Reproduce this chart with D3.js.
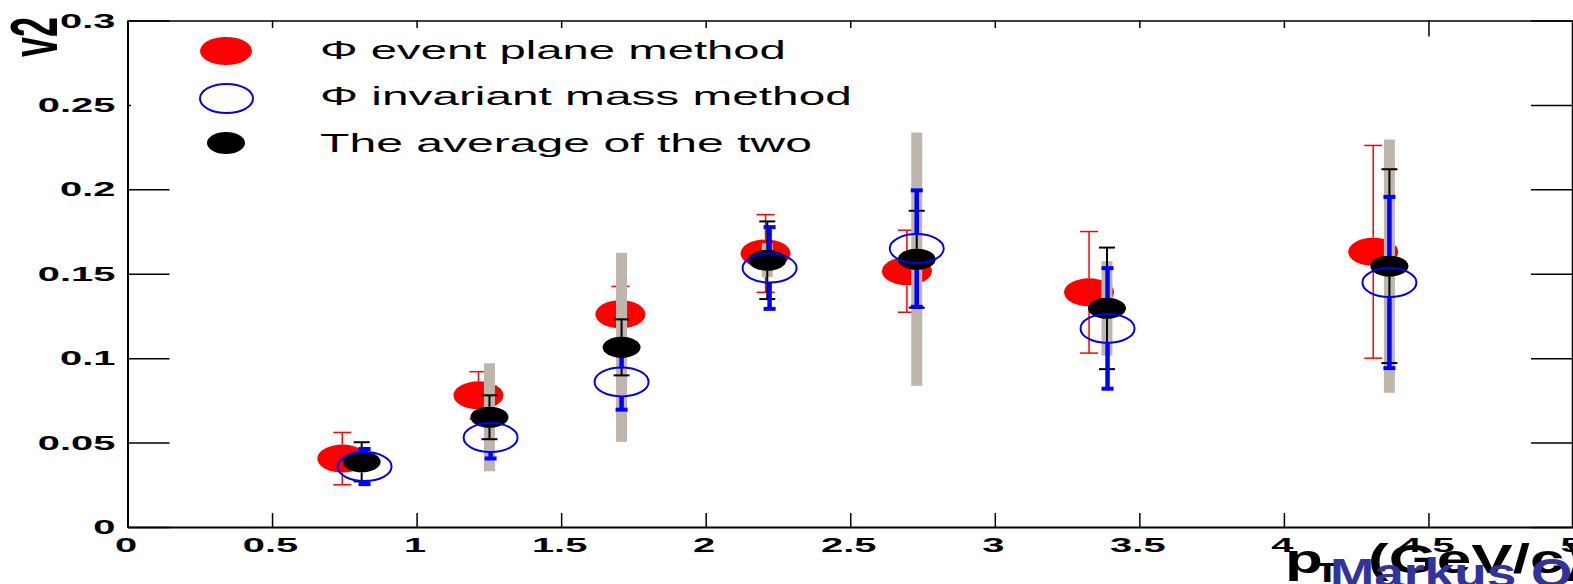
<!DOCTYPE html>
<html><head><meta charset="utf-8">
<script src="https://cdn.jsdelivr.net/npm/d3@7"></script>
<style>
html,body{margin:0;padding:0;background:#fff;overflow:hidden}
svg{display:block}
text{font-family:"Liberation Sans",Arial,Helvetica,sans-serif}
</style></head><body>
<svg id="chart" width="1573" height="584"></svg>
<script>
// ---------- data ----------
const yTickValues = [0, 0.05, 0.1, 0.15, 0.2, 0.25, 0.3];
const yTickLabels = ["0", "0.05", "0.1", "0.15", "0.2", "0.25", "0.3"];
const xTickValues = [0, 0.5, 1, 1.5, 2, 2.5, 3, 3.5, 4, 4.5, 5];
const xTickLabels = ["0", "0.5", "1", "1.5", "2", "2.5", "3", "3.5", "4", "4.5", "5"];

// Φ event plane method (red, filled)
const epX   = [0.743, 1.214, 1.705, 2.207, 2.696, 3.326, 4.309];
const epY   = [0.0405, 0.078, 0.126, 0.162, 0.1515, 0.139, 0.163];
const epErr = [0.0155, 0.014, 0.0165, 0.023, 0.0243, 0.036, 0.063];

// Φ invariant mass method (blue, open)
const imX   = [0.82, 1.256, 1.709, 2.221, 2.73, 3.39, 4.365];
const imY   = [0.0358, 0.053, 0.0859, 0.1534, 0.1649, 0.1176, 0.1448];
const imErr = [0.0104, 0.0124, 0.0164, 0.0242, 0.0345, 0.0357, 0.0507];

// average of the two (black, filled) + systematic (grey band)
const avX   = [0.81, 1.252, 1.709, 2.213, 2.73, 3.388, 4.365];
const avY   = [0.0386, 0.065, 0.1064, 0.158, 0.1586, 0.1295, 0.1545];
const avErr = [0.0116, 0.013, 0.0166, 0.023, 0.0287, 0.036, 0.0574];
const avSys = [0, 0.032, 0.056, 0.01, 0.075, 0.028, 0.075];

const legendLabels = ["\u03A6 event plane method", "\u03A6 invariant mass method", "The average of the two"];
const yTitle = "v2";
const xTitleMain = "p", xTitleSub = "T", xTitleUnit = "(GeV/c)";
const author = "Markus Oldenburg";

// ---------- setup ----------
const svg = d3.select("#chart");
svg.append("rect").attr("width", 1573).attr("height", 584).attr("fill", "#fff");

const x = d3.scaleLinear().domain([0, 5]).range([127.5, 1573]);
const y = d3.scaleLinear().domain([0, 0.3]).range([527, 20.5]);

const RED = "#ff0000", BLUE = "#0000ff", BLACK = "#000000", GREY = "rgb(190,182,172)";

function styleAxis(g, domainWidth) {
  g.attr("font-family", null).attr("font-size", null);
  g.select(".domain").attr("stroke", "#000").attr("stroke-width", domainWidth);
  g.selectAll(".tick line").attr("stroke", "#000").attr("stroke-width", 1.5);
}

// top & right frame axes (no labels)
const gTop = svg.append("g").attr("transform", `translate(0,${y(0.3)})`)
  .call(d3.axisTop(x).tickValues(xTickValues).tickFormat("").tickSize(-16).tickSizeOuter(0));
styleAxis(gTop, 1.5);
const gRight = svg.append("g").attr("transform", `translate(1572,0)`)
  .call(d3.axisRight(y).tickValues(yTickValues).tickFormat("").tickSize(-41).tickSizeOuter(0));
styleAxis(gRight, 1.5);

// left axis
const gLeft = svg.append("g").attr("transform", `translate(${x(0)},0)`)
  .call(d3.axisLeft(y).tickValues(yTickValues).tickFormat((d, i) => yTickLabels[i]).tickSize(-42).tickSizeOuter(0));
styleAxis(gLeft, 2);
gLeft.selectAll(".tick text")
  .attr("x", 0).attr("dy", null).attr("text-anchor", "end")
  .attr("font-size", 21).attr("font-weight", "bold").attr("fill", "#000")
  .attr("transform", "translate(-12,6.5) scale(1.9,1)");

// bottom axis
const gBottom = svg.append("g").attr("transform", `translate(0,${y(0)})`)
  .call(d3.axisBottom(x).tickValues(xTickValues).tickFormat((d, i) => xTickLabels[i]).tickSize(-14).tickSizeOuter(0));
styleAxis(gBottom, 2);
gBottom.selectAll(".tick text")
  .attr("y", 0).attr("dy", null).attr("text-anchor", "middle")
  .attr("font-size", 21).attr("font-weight", "bold").attr("fill", "#000")
  .attr("transform", "translate(-2,25) scale(1.9,1)");

// ---------- legend (white box hides ticks behind it) ----------
svg.append("rect").attr("x", 131).attr("y", 28).attr("width", 1170).attr("height", 142).attr("fill", "#fff");

function stretchText(parent, str, px, py, o) {
  const g = parent.append("g");
  const t = g.append("text").attr("x", 0).attr("y", 0)
    .attr("text-anchor", o.anchor || "start")
    .attr("font-size", o.size).attr("font-weight", o.weight || "normal")
    .attr("fill", o.fill || "#000").text(str);
  let sx = o.sx || 1;
  if (o.width) sx = o.width / t.node().getComputedTextLength();
  g.attr("transform", `translate(${px},${py}) scale(${sx},1)` + (o.rotate ? ` rotate(${o.rotate})` : ""));
  return t;
}

const legMarkerY = [51, 98.5, 143];
const legTextBase = [58.5, 105, 152];
const legWidths = [466, 532, 492];
const leg = svg.append("g");
leg.append("ellipse").attr("cx", 226).attr("cy", legMarkerY[0]).attr("rx", 26).attr("ry", 14).attr("fill", RED);
leg.append("ellipse").attr("cx", 226.5).attr("cy", legMarkerY[1]).attr("rx", 26.5).attr("ry", 14.5)
  .attr("fill", "none").attr("stroke", BLUE).attr("stroke-width", 2);
leg.append("ellipse").attr("cx", 226).attr("cy", legMarkerY[2]).attr("rx", 19).attr("ry", 11).attr("fill", BLACK);
legendLabels.forEach((s, i) => stretchText(leg, s, 320, legTextBase[i], { size: 25, width: legWidths[i] }));

// ---------- data marks ----------
const toPts = (xs, ys, es, ss) => xs.map((v, i) => ({ x: v, y: ys[i], e: es[i], s: ss ? ss[i] : 0 }));
const epPts = toPts(epX, epY, epErr);
const imPts = toPts(imX, imY, imErr);
const avPts = toPts(avX, avY, avErr, avSys);

function markers(data, rx, ry, fill, stroke) {
  svg.append("g").selectAll("ellipse").data(data).join("ellipse")
    .attr("cx", d => x(d.x)).attr("cy", d => y(d.y)).attr("rx", rx).attr("ry", ry)
    .attr("fill", fill).attr("stroke", stroke || "none").attr("stroke-width", stroke ? 2 : 0);
}

function errorBars(data, color, lw, capLen, capW, gap) {
  const g = svg.append("g").attr("stroke", color);
  data.forEach(d => {
    const cx = x(d.x), top = y(d.y + d.e), bot = y(d.y - d.e), c = y(d.y);
    if (c - gap > top) g.append("line").attr("x1", cx).attr("x2", cx).attr("y1", top).attr("y2", c - gap).attr("stroke-width", lw);
    if (c + gap < bot) g.append("line").attr("x1", cx).attr("x2", cx).attr("y1", c + gap).attr("y2", bot).attr("stroke-width", lw);
    [top, bot].forEach(yy => g.append("line").attr("x1", cx - capLen / 2).attr("x2", cx + capLen / 2)
      .attr("y1", yy).attr("y2", yy).attr("stroke-width", capW));
  });
}

// red markers + bars
markers(epPts, 25, 14, RED);
errorBars(epPts, RED, 1.5, 18, 1.5, 14);

// grey systematic bars
const gSys = svg.append("g");
gSys.selectAll("rect").data(avPts.filter(d => d.s > 0)).join("rect")
  .attr("x", d => x(d.x) - 5.5).attr("width", 11)
  .attr("y", d => y(d.y + d.s)).attr("height", d => y(d.y - d.s) - y(d.y + d.s))
  .attr("fill", GREY);

// black stat bars, blue bars
errorBars(avPts, BLACK, 2, 16, 2, 10.5);
errorBars(imPts, BLUE, 4.5, 12, 4, 14.5);

// black markers, blue open markers
markers(avPts, 19, 10.5, BLACK);
markers(imPts, 27, 14.5, "none", BLUE);

// ---------- titles ----------
stretchText(svg, yTitle, 57, 17, { size: 36, weight: "bold", anchor: "end", sx: 1.85, rotate: -90 });
stretchText(svg, xTitleMain, 1285, 573, { size: 40, weight: "bold", sx: 1.55 });
stretchText(svg, xTitleSub, 1314, 582, { size: 28, weight: "bold", sx: 1.55 });
stretchText(svg, xTitleUnit, 1368, 573, { size: 40, weight: "bold", sx: 1.55 });
stretchText(svg, author, 1330, 587, { size: 40, weight: "bold", sx: 1.33, fill: "#333399" });
</script>
</body></html>
